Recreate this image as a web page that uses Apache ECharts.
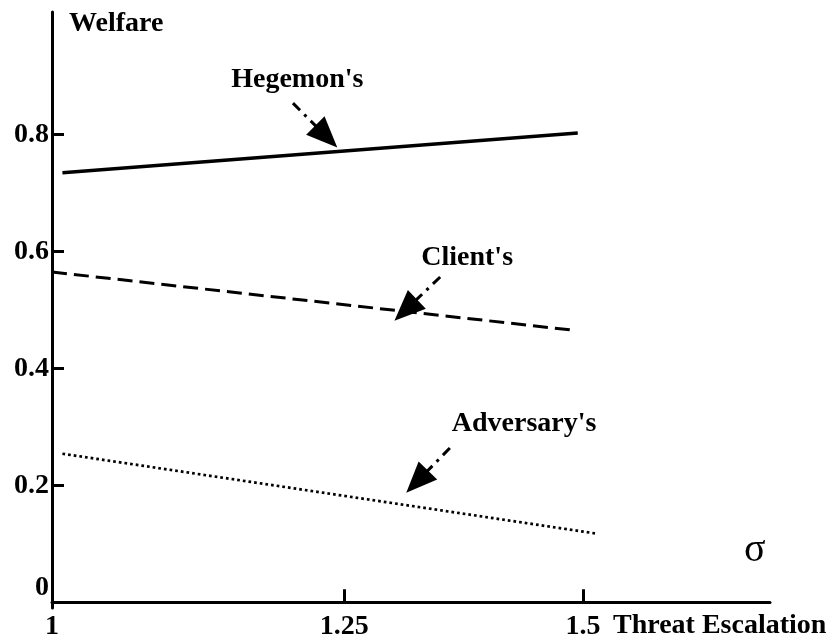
<!DOCTYPE html>
<html>
<head>
<meta charset="utf-8">
<script src="https://cdn.jsdelivr.net/npm/echarts@6/dist/echarts.min.js"></script>
<style>
html,body{margin:0;padding:0;background:#fff;}
#chart{width:840px;height:642px;}
</style>
</head>
<body>
<div id="chart"></div>
<script>
// ---- data ----
var xTicks = [1, 1.25, 1.5];
var xTickLabels = ['1', '1.25', '1.5'];
var yTicks = [0, 0.2, 0.4, 0.6, 0.8];
var yTickLabels = ['0', '0.2', '0.4', '0.6', '0.8'];

var hegemon = [[1.008, 0.735], [1.494, 0.803]];
var client = [[1.0, 0.565], [1.485, 0.466]];
var adversary = [[1.008, 0.254], [1.517, 0.117]];

var seriesNames = ["Hegemon's", "Client's", "Adversary's"];
// annotation: label position, arrow start, arrow head centre (data coords)
var labelPos = [[1.206, 0.8945], [1.373, 0.589], [1.434, 0.3049]];
var arrowFrom = [[1.202, 0.854], [1.345, 0.5565], [1.355, 0.2638]];
var arrowTo = [[1.233, 0.797], [1.310, 0.500], [1.3215, 0.2063]];

var FONT = "'Liberation Serif', 'Times New Roman', serif";
var FS = 28;

function nearestLabel(v, ticks, labels) {
  var best = 0, d = Infinity;
  for (var i = 0; i < ticks.length; i++) {
    var dd = Math.abs(ticks[i] - v);
    if (dd < d) { d = dd; best = i; }
  }
  return labels[best];
}

function makeSeries(name, data, idx, lineType, width) {
  return {
    name: name,
    type: 'line',
    data: data,
    showSymbol: false,
    symbol: 'none',
    lineStyle: { color: '#000', width: width, type: lineType, cap: 'butt' },
    silent: true,
    animation: false,
    markLine: {
      silent: true,
      animation: false,
      label: { show: false },
      lineStyle: { color: '#000', width: 3, type: [10, 6, 3, 6] },
      data: [[
        { coord: arrowFrom[idx], symbol: 'none' },
        { coord: arrowTo[idx], symbol: 'triangle', symbolSize: [26, 31] }
      ]]
    },
    markPoint: {
      silent: true,
      animation: false,
      symbol: 'circle',
      symbolSize: 1,
      itemStyle: { color: 'rgba(0,0,0,0)' },
      label: {
        show: true, position: 'inside', formatter: '{b}',
        color: '#000', fontSize: FS, fontWeight: 'bold', fontFamily: FONT
      },
      data: [{ name: name, coord: labelPos[idx] }]
    }
  };
}

var chart = echarts.init(document.getElementById('chart'), null, { renderer: 'canvas' });
chart.setOption({
  backgroundColor: '#fff',
  animation: false,
  grid: { left: 52, right: 70, top: 12, bottom: 34, containLabel: false, outerBoundsMode: 'none' },
  xAxis: {
    type: 'log',
    logBase: 10,
    min: 1,
    max: 1.7302,
    axisLine: { lineStyle: { color: '#000', width: 3 } },
    axisTick: { show: true, inside: true, length: 13, lineStyle: { color: '#000', width: 3 }, customValues: [1.25, 1.5] },
    axisLabel: {
      customValues: xTicks,
      margin: 5,
      color: '#000', fontSize: FS, fontWeight: 'bold', fontFamily: FONT,
      formatter: function (v) { return nearestLabel(v, xTicks, xTickLabels); }
    },
    splitLine: { show: false },
    minorTick: { show: false }
  },
  yAxis: {
    type: 'value',
    min: -0.01,
    max: 1.01,
    axisLine: { lineStyle: { color: '#000', width: 3 } },
    axisTick: { show: true, inside: true, length: 12, lineStyle: { color: '#000', width: 3 }, customValues: [0.2, 0.4, 0.6, 0.8] },
    axisLabel: {
      customValues: yTicks,
      margin: 3,
      color: '#000', fontSize: FS, fontWeight: 'bold', fontFamily: FONT,
      formatter: function (v) {
        var s = nearestLabel(v, yTicks, yTickLabels);
        return s === '0' ? '{z|' + s + '}' : s;
      },
      rich: { z: { fontSize: FS, fontWeight: 'bold', fontFamily: FONT, color: '#000', padding: [0, 0, 28, 0] } }
    },
    splitLine: { show: false }
  },
  graphic: [
    { type: 'text', left: 69, top: 10, style: { text: 'Welfare', font: 'bold 28px ' + FONT, fill: '#000' } },
    { type: 'text', left: 613, top: 612, style: { text: 'Threat Escalation', font: 'bold 28px ' + FONT, fill: '#000' } },
    { type: 'text', left: 744, top: 530, style: { text: 'σ', font: '40px ' + FONT, fill: '#000' } }
  ],
  series: [
    makeSeries(seriesNames[0], hegemon, 0, 'solid', 3.4),
    makeSeries(seriesNames[1], client, 1, [15, 7], 3),
    makeSeries(seriesNames[2], adversary, 2, [2.7, 3], 2.7)
  ]
});
</script>
</body>
</html>
